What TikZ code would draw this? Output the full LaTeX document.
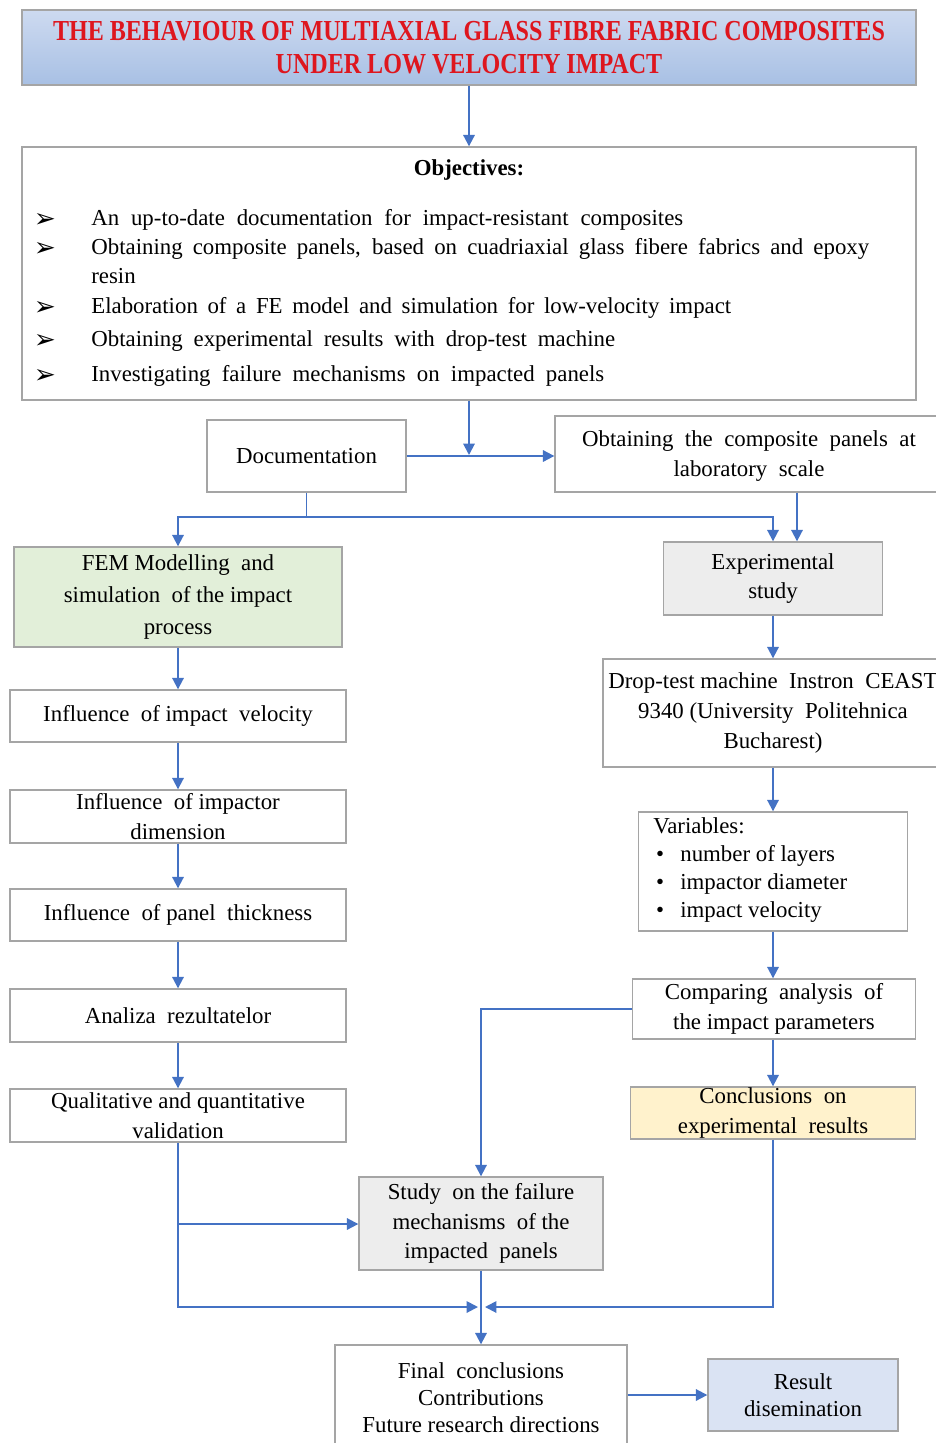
\documentclass[tikz,border=0pt]{standalone}
\usepackage{fontspec}
\setmainfont{Liberation Serif}
\newfontfamily\titlefont[FakeStretch=0.83]{Liberation Serif}
\newfontfamily\symfont{DejaVu Sans}
\usetikzlibrary{arrows.meta}
\definecolor{lnblue}{RGB}{68,114,196}
\definecolor{bordergray}{RGB}{165,165,165}
\definecolor{titlered}{RGB}{222,22,30}
\definecolor{titletop}{RGB}{205,218,240}
\definecolor{titlebot}{RGB}{168,192,228}
\definecolor{femgreen}{RGB}{226,239,217}
\definecolor{boxgray}{RGB}{237,237,237}
\definecolor{concyellow}{RGB}{255,242,204}
\definecolor{resblue}{RGB}{218,227,243}
\tikzset{
  box/.style={draw=bordergray, line width=0.8pt, inner sep=0pt, align=center,
    font=\fontsize{13}{17}\selectfont},
  txt/.style={inner sep=0pt, font=\fontsize{13}{17}\selectfont, text height=1.6ex, text depth=0.4ex},
  ln/.style={draw=lnblue, line width=1.1pt},
  arr/.style={ln, -{Triangle[length=6.5pt,width=6.5pt]}},
}
\begin{document}
\begin{tikzpicture}[x=0.02cm,y=-0.02cm]
\useasboundingbox[fill=white] (0,0) rectangle (936,1443);

% title
\node[box, top color=titletop, bottom color=titlebot, minimum width=17.88cm, minimum height=1.5cm,
  font=\titlefont\bfseries\fontsize{16.5}{18.5}\selectfont, text=titlered] (title) at (469,47.5)
  {THE BEHAVIOUR OF MULTIAXIAL GLASS FIBRE FABRIC COMPOSITES\\UNDER LOW VELOCITY IMPACT};

% objectives
\node[box, minimum width=17.88cm, minimum height=5.06cm] (obj) at (469,273.5) {};
\node[txt, font=\bfseries\fontsize{13}{17}\selectfont] (objt) at (469,171) {Objectives:};
\foreach \yy/\nm in {220/b1,249/b2,308/b3,341/b4,376/b5}{
  \node[inner sep=0pt, font=\symfont\fontsize{15}{17}\selectfont] (\nm) at (45,\yy) {➢};
}
\node[txt, anchor=west] (o1) at (91,221) {\makebox[11.84cm][s]{An up-to-date documentation for impact-resistant composites}};
\node[txt, anchor=west] (o2) at (91,250) {\makebox[15.56cm][s]{Obtaining composite panels, based on cuadriaxial glass fibere fabrics and epoxy}};
\node[txt, anchor=west] (o2b) at (91,279) {resin};
\node[txt, anchor=west] (o3) at (91,309) {\makebox[12.8cm][s]{Elaboration of a FE model and simulation for low-velocity impact}};
\node[txt, anchor=west] (o4) at (91,342) {\makebox[10.48cm][s]{Obtaining experimental results with drop-test machine}};
\node[txt, anchor=west] (o5) at (91,377) {\makebox[10.26cm][s]{Investigating failure mechanisms on impacted panels}};

% second row
\node[box, minimum width=3.98cm, minimum height=1.44cm] (doc) at (306.5,456) {Documentation};
\node[box, minimum width=9.68cm, minimum height=1.52cm] (obt) at (797,454) {};
\node[inner sep=0pt, align=center, font=\fontsize{13}{17}\selectfont] (obtt) at (749,456) {Obtaining\ \ the\ \ composite\ \ panels\ \ at\\laboratory\ \ scale};

% left column
\node[box, fill=femgreen, minimum width=6.56cm, minimum height=2.0cm, font=\fontsize{13}{18.2}\selectfont] (fem) at (178,597)
  {FEM Modelling\ \ and\\simulation\ \ of the impact\\process};
\node[box, minimum width=6.72cm, minimum height=1.04cm] (vel) at (178,716) {Influence\ \ of impact\ \ velocity};
\node[box, minimum width=6.72cm, minimum height=1.06cm] (dim) at (178,816.5) {Influence\ \ of impactor\\dimension};
\node[box, minimum width=6.72cm, minimum height=1.04cm] (thk) at (178,915) {Influence\ \ of panel\ \ thickness};
\node[box, minimum width=6.72cm, minimum height=1.06cm] (ana) at (178,1015.5) {Analiza\ \ rezultatelor};
\node[box, minimum width=6.72cm, minimum height=1.06cm] (qual) at (178,1115.5) {Qualitative and quantitative\\validation};

% right column
\node[box, fill=boxgray, minimum width=4.38cm, minimum height=1.46cm] (exp) at (773,578.5) {Experimental\\study};
\node[box, minimum width=6.8cm, minimum height=2.16cm] (drop) at (773,713)
  {Drop-test machine\ \ Instron\ \ CEAST\\9340 (University\ \ Politehnica\\Bucharest)};
\node[box, minimum width=5.38cm, minimum height=2.38cm] (var) at (773,871.5) {};
\node[txt, anchor=west] (vt) at (653,829) {Variables:};
\foreach \yy/\nm/\tt in {857/v1/number of layers, 885/v2/impactor diameter, 913/v3/impact velocity}{
  \node[txt] (\nm b) at (660,\yy) {•};
  \node[txt, anchor=west] (\nm) at (680,\yy) {\tt};
}
\node[box, minimum width=5.66cm, minimum height=1.2cm] (cmp) at (774,1009) {Comparing\ \ analysis\ \ of\\the impact parameters};
\node[box, fill=concyellow, minimum width=5.7cm, minimum height=1.04cm] (conc) at (773,1113) {Conclusions\ \ on\\experimental\ \ results};

% bottom
\node[box, fill=boxgray, minimum width=4.88cm, minimum height=1.86cm] (study) at (481,1223.5)
  {Study\ \ on the failure\\mechanisms\ \ of the\\impacted\ \ panels};
\node[box, minimum width=5.84cm, minimum height=2.6cm] (final) at (481,1410) {};
\node[inner sep=0pt, align=center, font=\fontsize{13}{15.3}\selectfont] (finalt) at (481,1398)
  {Final\ \ conclusions\\Contributions\\Future research directions};
\node[box, fill=resblue, minimum width=3.8cm, minimum height=1.44cm, font=\fontsize{13}{15.3}\selectfont] (res) at (803,1395) {Result\\disemination};

% connectors
\coordinate (j1) at (469,455);
\coordinate (j2) at (306.5,517);
\coordinate (jl) at (478,1307);
\coordinate (jr) at (485,1307);
\coordinate (jb) at (178,1224);
\draw[arr] (title.south) -- (obj.north);
\draw[arr] (obj.south) -- (j1);
\draw[arr] (doc.east) -- (doc.east -| obt.west);
\draw[ln] (doc.south) -- (j2);
\draw[arr] (j2) -| (fem.north);
\draw[arr] (j2) -| (exp.north);
\draw[arr] (obt.south) -- (obt.south |- exp.north);
\draw[arr] (fem.south) -- (vel.north);
\draw[arr] (vel.south) -- (dim.north);
\draw[arr] (dim.south) -- (thk.north);
\draw[arr] (thk.south) -- (ana.north);
\draw[arr] (ana.south) -- (qual.north);
\draw[arr] (exp.south) -- (drop.north);
\draw[arr] (drop.south) -- (var.north);
\draw[arr] (var.south) -- (var.south |- cmp.north);
\draw[arr] (cmp.south -| conc.north) -- (conc.north);
\draw[arr] (cmp.west) -| (study.north);
\draw[arr] (qual.south) |- (jl);
\draw[arr] (jb) -- (jb -| study.west);
\draw[arr] (conc.south) |- (jr);
\draw[arr] (study.south) -- (final.north);
\draw[arr] (final.east |- res.west) -- (res.west);
\end{tikzpicture}
\end{document}
